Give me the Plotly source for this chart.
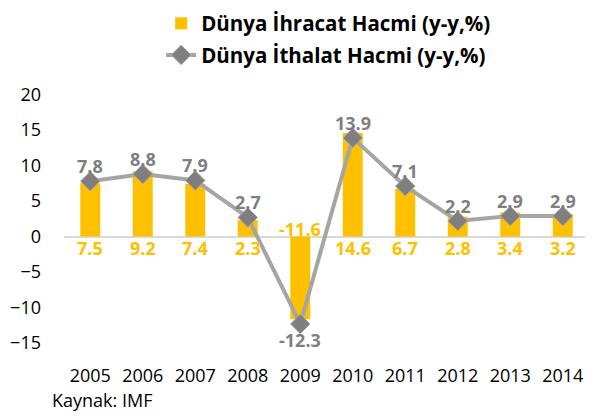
import plotly.graph_objects as go

years = ["2005", "2006", "2007", "2008", "2009", "2010", "2011", "2012", "2013", "2014"]
ihracat = [7.5, 9.2, 7.4, 2.3, -11.6, 14.6, 6.7, 2.8, 3.4, 3.2]
ithalat = [7.8, 8.8, 7.9, 2.7, -12.3, 13.9, 7.1, 2.2, 2.9, 2.9]
y_ticks = [-15, -10, -5, 0, 5, 10, 15, 20]

YEL = "#FFC000"
GRAY_LINE = "#A5A5A5"
GRAY_MARK = "#7F7F7F"
FONT = "Open Sans"

fig = go.Figure()

fig.add_trace(go.Bar(
    x=years, y=ihracat, name="Dünya İhracat Hacmi (y-y,%)",
    marker=dict(color=YEL, line=dict(width=0)),
    legendgroup="a", hoverinfo="skip",
))

fig.add_trace(go.Scatter(
    x=years, y=ithalat, name="Dünya İthalat Hacmi (y-y,%)",
    mode="lines+markers",
    line=dict(color=GRAY_LINE, width=4),
    marker=dict(symbol="diamond", size=15, color=GRAY_MARK, line=dict(color=GRAY_LINE, width=1)),
    legendgroup="b", hoverinfo="skip",
))

# import labels (above / below markers); x given as category index
for i, v in enumerate(ithalat):
    fig.add_annotation(
        x=i, y=v, text=f"{v:.1f}", showarrow=False,
        yshift=-16 if v < 0 else 15,
        font=dict(family=FONT, size=18, color=GRAY_MARK, weight="bold"),
    )

# export labels next to the zero line
for i, v in enumerate(ihracat):
    fig.add_annotation(
        x=i, y=0, text=f"{v:.1f}", showarrow=False,
        yshift=8 if v < 0 else -11,
        font=dict(family=FONT, size=18, color=YEL, weight="bold"),
    )

fig.add_annotation(
    text="Kaynak: IMF", xref="paper", yref="paper",
    x=-0.027, y=-0.083, xanchor="left", yanchor="top", showarrow=False,
    font=dict(family=FONT, size=18, color="#000000"),
)

fig.update_layout(
    width=585, height=411,
    margin=dict(l=56, r=4, t=83, b=56, autoexpand=False),
    paper_bgcolor="white", plot_bgcolor="white",
    bargap=0.62,
    font=dict(family=FONT, size=18, color="#000000"),
    showlegend=True,
    legend=dict(
        x=0.185, y=1.322, xanchor="left", yanchor="top",
        orientation="v", traceorder="grouped", tracegroupgap=2,
        font=dict(family=FONT, size=20.5, color="#000000", weight="bold"),
        bgcolor="rgba(0,0,0,0)",
    ),
    xaxis=dict(
        type="category", range=[-0.5, 9.5], showgrid=False, zeroline=False,
        showline=False, ticks="", automargin=False,
        tickfont=dict(family=FONT, size=18, color="#000000"),
    ),
    yaxis=dict(
        range=[-17.8, 20.5], tickvals=y_ticks, showgrid=False,
        zeroline=True, zerolinecolor="#D9D9D9", zerolinewidth=1.5,
        showline=False, ticks="", ticklabelstandoff=22, automargin=False,
        tickfont=dict(family=FONT, size=18, color="#000000"),
    ),
)

fig.write_html("out.html")
